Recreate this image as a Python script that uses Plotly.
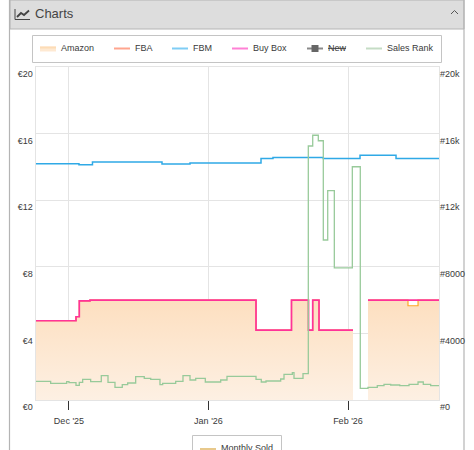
import pandas as pd
import plotly.graph_objects as go

W, H = 474, 450
BASE = pd.Timestamp("2025-12-01")

# Time positions are days relative to 1 Dec 2025; every series is a step line.
x_range_days = [-7.44, 82.22]

# Amazon has a gap in early February, so it is kept as two runs.
amazon_days_early = [-7.44, 1.56, 2.29, 4.67, 41.56, 49.44, 53.22, 54.16, 55.56, 63.11]
amazon_eur_early = [4.76, 5.0, 5.95, 6.0, 4.2, 6.0, 4.2, 6.0, 4.2, 4.2]
amazon_days_late = [66.44, 75.33, 77.56, 82.22]
amazon_eur_late = [6.0, 5.66, 6.0, 6.0]

buybox_days = [-7.44, 1.56, 2.29, 4.67, 41.56, 49.44, 53.22, 54.16, 55.56, 63.11, 63.12, 66.44, 82.22]
buybox_eur = [4.76, 5.0, 5.95, 6.0, 4.2, 6.0, 4.2, 6.0, 4.2, 4.2, None, 6.0, 6.0]

fbm_days = [-7.44, 2.22, 5.22, 20.67, 26.89, 42.67, 45.33, 56.51, 64.67, 72.67, 82.22]
fbm_eur = [14.19, 14.13, 14.3, 14.17, 14.23, 14.5, 14.57, 14.5, 14.7, 14.5, 14.5]

rank_days = [-7.44, -4.07, -0.51, 0, 1.56, 2.29, 3.04, 4.82, 7.18, 8.67, 10.22, 11.84, 13.04,
             14.82, 16.73, 18.16, 20.22, 20.82, 23.71, 25.33, 26.89, 28.16, 30.29, 33.71, 35.11,
             41.56, 42.73, 43.78, 47.04, 47.78, 49.63, 50.0, 52.0, 53.18, 54.16, 55.4, 56.51,
             57.49, 58.96, 62.96, 64.73, 66.44, 68.51, 70.0, 71.49, 73.49, 75.56, 77.56, 78.73,
             80.37, 82.22]
rank_vals = [1120, 1000, 1100, 1040, 880, 1060, 1240, 1100, 1460, 1060, 760, 920, 1020,
             1400, 1300, 1240, 920, 1000, 1120, 1460, 1200, 1300, 1080, 1200, 1420,
             1240, 1080, 1140, 1260, 1540, 1640, 1300, 1580, 15255, 15900, 15570, 9610,
             12570, 7930, 14010, 700, 760, 860, 940, 900, 860, 940, 1080, 940,
             860, 860]

price_ticks = [0, 4, 8, 12, 16, 20]
price_labels = ["€0", "€4", "€8", "€12", "€16", "€20"]
rank_ticks = [0, 4000, 8000, 12000, 16000, 20000]
rank_labels = ["#0", "#4000", "#8000", "#12k", "#16k", "#20k"]
month_days = [0, 31, 62]
month_labels = ["Dec '25", "Jan '26", "Feb '26"]

legend_names = ["Amazon", "FBA", "FBM", "Buy Box", "<s>New</s>", "Sales Rank"]
legend_colors = ["#fee9d2", "#ffa58e", "#7fcdf5", "#ff80d5", "#8a8a8a", "#c5dcc5"]
legend_swatch_x = [40, 114, 172, 232, 307, 366]


def dates(days):
    return [BASE + pd.Timedelta(days=d) for d in days]


def px(x):
    return x / W


def py(y):
    return 1 - y / H


FONT = "Liberation Sans, Arial, sans-serif"
GRID = "#e4e4e4"
TEXT = "#3a3a3a"
BORDER = "#b4b4b4"

fig = go.Figure()
for run_days, run_eur in [(amazon_days_early, amazon_eur_early), (amazon_days_late, amazon_eur_late)]:
    fig.add_trace(go.Scatter(
        x=dates(run_days), y=run_eur, mode="lines", line=dict(shape="hv", color="#ffa726", width=1.2),
        fill="tozeroy",
        fillgradient=dict(type="vertical", start=0, stop=6,
                          colorscale=[[0, "#fdf0e3"], [1, "#fddfc0"]]),
        hoverinfo="skip", showlegend=False))
fig.add_trace(go.Scatter(
    x=dates(fbm_days), y=fbm_eur, mode="lines", line=dict(shape="hv", color="#2fa9e6", width=1.5),
    showlegend=False))
fig.add_trace(go.Scatter(
    x=dates(buybox_days), y=buybox_eur, mode="lines", line=dict(shape="hv", color="#ff3399", width=1.7),
    showlegend=False, connectgaps=False))
fig.add_trace(go.Scatter(
    x=dates(rank_days), y=rank_vals, yaxis="y2", mode="lines",
    line=dict(shape="hv", color="#98ca9a", width=1.3), showlegend=False))

shapes = [
    # panel frame and header
    dict(type="rect", x0=px(10), x1=px(464), y0=py(0), y1=py(29), fillcolor="#dddddd",
         line=dict(color=BORDER, width=1)),
    dict(type="line", x0=px(9.5), x1=px(9.5), y0=py(0), y1=py(450), line=dict(color=BORDER, width=1.2)),
    dict(type="line", x0=px(464), x1=px(464), y0=py(0), y1=py(450), line=dict(color=BORDER, width=1.2)),
    # header icon
    dict(type="path", path=f"M{px(15)},{py(9)} L{px(15)},{py(19.5)} L{px(30)},{py(19.5)}",
         line=dict(color="#444444", width=1)),
    dict(type="path", path=f"M{px(17)},{py(17)} L{px(21)},{py(13)} L{px(24)},{py(15)} L{px(29)},{py(10.5)}",
         line=dict(color="#444444", width=1.8)),
    # collapse chevron
    dict(type="path", path=f"M{px(451)},{py(14)} L{px(454.5)},{py(10.5)} L{px(458)},{py(14)}",
         line=dict(color="#555555", width=1)),
    # legend boxes
    dict(type="rect", x0=px(32.5), x1=px(441.5), y0=py(35.5), y1=py(62.5), line=dict(color="#c4c4c4", width=1)),
    dict(type="rect", x0=px(192.5), x1=px(281.5), y0=py(435.5), y1=py(460), line=dict(color="#c4c4c4", width=1)),
    dict(type="rect", x0=px(200), x1=px(216), y0=py(448), y1=py(453), fillcolor="#e8c98c", line=dict(width=0)),
]

annotations = [
    dict(text="Charts", x=px(33), y=py(13.5), xanchor="left", yanchor="middle", showarrow=False,
         font=dict(family=FONT, size=13, color="#444444"), xref="paper", yref="paper"),
    dict(text="Monthly Sold", x=px(219), y=py(448), xanchor="left", yanchor="middle", showarrow=False,
         font=dict(family=FONT, size=9, color=TEXT), xref="paper", yref="paper"),
]

for name, color, sx in zip(legend_names, legend_colors, legend_swatch_x):
    if name == "Amazon":
        # two-tone swatch echoing the area gradient
        shapes.append(dict(type="rect", x0=px(sx), x1=px(sx + 16), y0=py(46.5), y1=py(51.5),
                           fillcolor=color, line=dict(width=0)))
        shapes.append(dict(type="rect", x0=px(sx), x1=px(sx + 16), y0=py(46.5), y1=py(48.5),
                           fillcolor="#fddcb6", line=dict(width=0)))
    else:
        shapes.append(dict(type="line", x0=px(sx), x1=px(sx + 16), y0=py(48.5), y1=py(48.5),
                           line=dict(color=color, width=2)))
    if "New" in name:
        shapes.append(dict(type="rect", x0=px(sx + 4.5), x1=px(sx + 11.5), y0=py(45), y1=py(52),
                           fillcolor="#666666", line=dict(width=0)))
    annotations.append(dict(text=name, x=px(sx + 19), y=py(48.5), xanchor="left", yanchor="middle",
                            showarrow=False, font=dict(family=FONT, size=9, color=TEXT),
                            xref="paper", yref="paper"))

for shape in shapes:
    shape.update(xref="paper", yref="paper", layer="below")

fig.update_layout(
    width=W, height=H, margin=dict(l=0, r=0, t=0, b=0, autoexpand=False),
    paper_bgcolor="white", plot_bgcolor="white", showlegend=False,
    font=dict(family=FONT, size=9, color=TEXT),
    shapes=shapes, annotations=annotations,
    xaxis=dict(
        domain=[px(35.5), px(439)], type="date", range=dates(x_range_days),
        tickmode="array", tickvals=dates(month_days), ticktext=month_labels,
        ticks="outside", ticklen=9, tickcolor="#333333", tickwidth=1, ticklabelstandoff=3,
        showgrid=True, gridcolor=GRID, gridwidth=1, zeroline=False,
        showline=True, linecolor=GRID, mirror=True, tickfont=dict(size=9, color=TEXT)),
    yaxis=dict(
        domain=[py(400), py(67)], range=[0, 20], tickmode="array", tickvals=price_ticks, ticktext=price_labels,
        ticks="", showgrid=True, gridcolor=GRID, gridwidth=1, zeroline=False,
        showline=True, linecolor=GRID, mirror=True, ticklabelshift=7, ticklabelstandoff=0,
        tickfont=dict(size=9, color=TEXT)),
    yaxis2=dict(
        overlaying="y", side="right", anchor="x", range=[0, 20000], tickmode="array",
        tickvals=rank_ticks, ticktext=rank_labels, ticks="", showgrid=False, zeroline=False,
        showline=False, ticklabelshift=7, ticklabelstandoff=0, tickfont=dict(size=9, color=TEXT)),
)

fig.write_html("out.html")
